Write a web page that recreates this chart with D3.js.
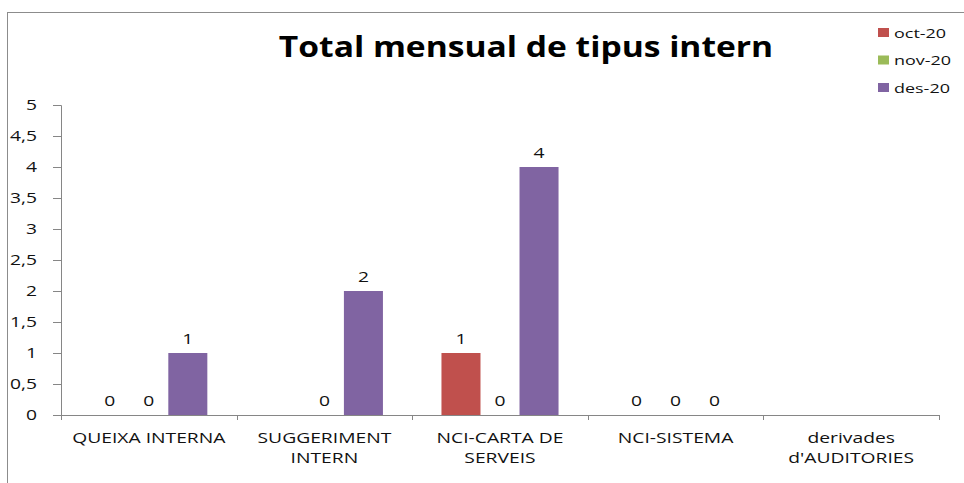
<!DOCTYPE html>
<html>
<head>
<meta charset="utf-8">
<script src="https://cdn.jsdelivr.net/npm/d3@7"></script>
<style>
  html, body { margin: 0; padding: 0; background: #fff; }
  svg { display: block; }
</style>
</head>
<body>
<svg id="chart" width="964" height="483"></svg>
<script>
const title = "Total mensual de tipus intern";
const categories = ["QUEIXA INTERNA", "SUGGERIMENT INTERN", "NCI-CARTA DE SERVEIS", "NCI-SISTEMA", "derivades d'AUDITORIES"];
const categoryLines = [["QUEIXA INTERNA"], ["SUGGERIMENT", "INTERN"], ["NCI-CARTA DE", "SERVEIS"], ["NCI-SISTEMA"], ["derivades", "d'AUDITORIES"]];
const seriesNames = ["oct-20", "nov-20", "des-20"];
const oct20 = [0, null, 1, 0, null];
const nov20 = [0, 0, 0, 0, null];
const des20 = [1, 2, 4, 0, null];
const seriesColors = ["#C0504D", "#9BBB59", "#8064A2"];
const yTicks = [0, 0.5, 1, 1.5, 2, 2.5, 3, 3.5, 4, 4.5, 5];

const seriesValues = [oct20, nov20, des20];
const svg = d3.select("#chart");
const font = "'Open Sans', sans-serif";
const axisColor = "#868686";
const textColor = "#111";
const SX = 1.33;      // horizontal stretch of small text
const SX_TITLE = 1.2; // horizontal stretch of title

// chart border
svg.append("rect")
  .attr("x", 7.5).attr("y", 12.5)
  .attr("width", 1000).attr("height", 1000)
  .attr("fill", "none").attr("stroke", "#8c8c8c").attr("stroke-width", 1);

const plot = { left: 61, right: 939, top: 105, bottom: 415 };

const x0 = d3.scaleBand().domain(categories).range([plot.left, plot.right]).padding(0);
const x1 = d3.scaleBand().domain(seriesNames).range([0, x0.bandwidth()]).paddingInner(0).paddingOuter(0.75);
const y = d3.scaleLinear().domain([0, 5]).range([plot.bottom, plot.top]);

// title
svg.append("text")
  .attr("transform", `translate(526,57) scale(${SX_TITLE},1)`)
  .attr("text-anchor", "middle")
  .attr("font-family", font).attr("font-weight", "bold")
  .attr("font-size", 28).attr("fill", "#000")
  .text(title);

// bars
const rows = categories.map((c, i) => ({ cat: c, vals: seriesNames.map((s, j) => ({ s, j, v: seriesValues[j][i] })) }));
const groups = svg.append("g").selectAll("g").data(rows).join("g")
  .attr("transform", d => `translate(${x0(d.cat)},0)`);

groups.selectAll("rect").data(d => d.vals.filter(v => v.v !== null && v.v > 0)).join("rect")
  .attr("x", d => x1(d.s))
  .attr("y", d => y(d.v))
  .attr("width", x1.bandwidth())
  .attr("height", d => y(0) - y(d.v))
  .attr("fill", d => seriesColors[d.j]);

groups.selectAll("text").data(d => d.vals.filter(v => v.v !== null)).join("text")
  .attr("transform", d => `translate(${x1(d.s) + x1.bandwidth() / 2},${y(d.v) - 9}) scale(${SX},1)`)
  .attr("text-anchor", "middle")
  .attr("font-family", font).attr("font-size", 14.5).attr("fill", textColor)
  .text(d => d.v);

// y axis
const yAxis = d3.axisLeft(y).tickValues(yTicks).tickSize(8).tickPadding(0)
  .tickFormat(d => String(d).replace(".", ","));
const gy = svg.append("g").attr("transform", `translate(${plot.left},0)`).call(yAxis);
gy.select(".domain").attr("stroke", axisColor).attr("d", `M-8,${plot.top}.5H0.5V${plot.bottom}`);
gy.selectAll(".tick line").attr("stroke", axisColor);
gy.selectAll(".tick text")
  .attr("x", -24 / SX)
  .attr("transform", `scale(${SX},1)`)
  .attr("font-family", font).attr("font-size", 14.5).attr("fill", textColor);

// x axis
const xAxis = d3.axisBottom(x0).tickSize(0).tickFormat("");
const gx = svg.append("g").attr("transform", `translate(0,${plot.bottom})`).call(xAxis);
gx.select(".domain").attr("stroke", axisColor).attr("d", `M${plot.left},0.5H${plot.right}`);
const boundaries = categories.map(c => x0(c)).concat([plot.right]);
gx.selectAll(".bound").data(boundaries).join("line")
  .attr("class", "bound")
  .attr("x1", d => Math.round(d) + 0.5).attr("x2", d => Math.round(d) + 0.5)
  .attr("y1", 0).attr("y2", 5)
  .attr("stroke", axisColor);

// category labels
const lab = svg.append("g").selectAll("text").data(categories).join("text")
  .attr("text-anchor", "middle")
  .attr("font-family", font).attr("font-size", 14.5).attr("fill", textColor)
  .attr("transform", d => `translate(${x0(d) + x0.bandwidth() / 2},443) scale(${SX},1)`);
lab.selectAll("tspan").data((d, i) => categoryLines[i]).join("tspan")
  .attr("x", 0).attr("dy", (d, i) => i === 0 ? 0 : 20)
  .text(d => d);

// legend
const leg = svg.append("g").selectAll("g").data(seriesNames).join("g")
  .attr("transform", (d, i) => `translate(878,${28 + i * 27.5})`);
leg.append("rect").attr("width", 11).attr("height", 9).attr("fill", (d, i) => seriesColors[i]);
leg.append("text").attr("transform", `translate(16,9.5) scale(${SX},1)`)
  .attr("font-family", font).attr("font-size", 13.5).attr("fill", textColor)
  .text(d => d);
</script>
</body>
</html>
